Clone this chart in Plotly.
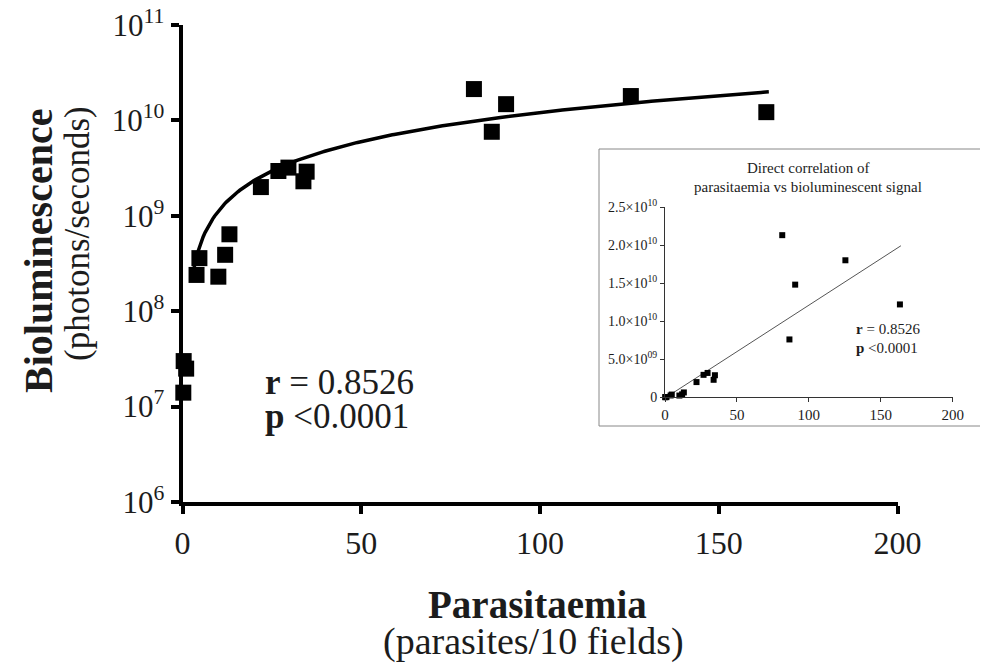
import numpy as np
import plotly.graph_objects as go

# ---- data ----
parasitaemia = [0.3, 1.0, 0.2, 4.7, 3.9, 10.0, 11.9, 13.1, 21.9, 26.8, 29.6,
                33.8, 34.7, 81.5, 86.5, 90.5, 125.4, 163.3]
bioluminescence = [3.0e7, 2.5e7, 1.4e7, 3.6e8, 2.4e8, 2.3e8, 3.9e8, 6.4e8,
                   2.0e9, 2.95e9, 3.2e9, 2.3e9, 2.9e9, 2.13e10, 7.6e9,
                   1.48e10, 1.8e10, 1.22e10]

# linear regression line
fit_intercept = -1.0e8
fit_slope = 1.22e8
fit_x_start, fit_x_end = 2.5, 164.0

main_y_tickvals = [1e6, 1e7, 1e8, 1e9, 1e10, 1e11]
main_y_ticktext = ["10<sup>6</sup>", "10<sup>7</sup>", "10<sup>8</sup>",
                   "10<sup>9</sup>", "10<sup>10</sup>", "10<sup>11</sup>"]
x_tickvals = [0, 50, 100, 150, 200]

inset_y_tickvals = [0, 5e9, 1e10, 1.5e10, 2e10, 2.5e10]
inset_y_ticktext = ["0", "5.0×10<sup>09</sup>", "1.0×10<sup>10</sup>",
                    "1.5×10<sup>10</sup>", "2.0×10<sup>10</sup>",
                    "2.5×10<sup>10</sup>"]

fit_x = np.linspace(fit_x_start, fit_x_end, 300)
fit_y = fit_intercept + fit_slope * fit_x

# page body margin offsets the figure by 8px
OFF = 8
W, H = 988 - OFF, 668 - OFF
FONT = "Liberation Serif, Times New Roman, serif"
TXT = "#1c1c1c"

def px(x):
    return (x - OFF) / W

def py(y):
    return 1 - (y - OFF) / H

fig = go.Figure()

# main chart
fig.add_trace(go.Scatter(x=fit_x, y=fit_y, mode="lines",
                         line=dict(color="#000000", width=3.5),
                         xaxis="x", yaxis="y", showlegend=False, hoverinfo="skip"))
fig.add_trace(go.Scatter(x=parasitaemia, y=bioluminescence, mode="markers",
                         marker=dict(symbol="square", size=16, color="#000000"),
                         cliponaxis=False, xaxis="x", yaxis="y", showlegend=False))

# inset chart
fig.add_trace(go.Scatter(x=fit_x, y=fit_y, mode="lines",
                         line=dict(color="#555555", width=1),
                         xaxis="x2", yaxis="y2", showlegend=False, hoverinfo="skip"))
fig.add_trace(go.Scatter(x=parasitaemia, y=bioluminescence, mode="markers",
                         marker=dict(symbol="square", size=6, color="#000000"),
                         cliponaxis=False, xaxis="x2", yaxis="y2", showlegend=False))

fig.update_layout(
    width=W, height=H,
    margin=dict(l=0, r=0, t=0, b=0),
    paper_bgcolor="white", plot_bgcolor="rgba(0,0,0,0)",
    font=dict(family=FONT, color=TXT),
    xaxis=dict(domain=[px(182.6), px(897.5)], range=[0, 200], automargin=False,
               tickvals=x_tickvals, ticks="outside", ticklen=8, tickwidth=4,
               tickcolor="#000", showline=True, linewidth=4, linecolor="#000",
               showgrid=False, zeroline=False, anchor="y",
               ticklabelstandoff=2, ticklabeloverflow="allow",
               tickfont=dict(size=32, family=FONT, color=TXT)),
    yaxis=dict(domain=[py(502), py(25)], type="log", range=[6, 11], automargin=False,
               tickvals=main_y_tickvals, ticktext=main_y_ticktext,
               ticks="outside", ticklen=8, tickwidth=4, tickcolor="#000",
               showline=True, linewidth=4, linecolor="#000",
               showgrid=False, zeroline=False, anchor="x",
               ticklabelstandoff=0, ticklabeloverflow="allow",
               tickfont=dict(size=31, family=FONT, color=TXT)),
    xaxis2=dict(domain=[px(665), px(952.7)], range=[0, 200], automargin=False,
                tickvals=x_tickvals, ticks="outside", ticklen=4, tickwidth=1,
                tickcolor="#333", showline=True, linewidth=1, linecolor="#333",
                showgrid=False, zeroline=False, anchor="y2",
                tickfont=dict(size=15, family=FONT, color=TXT)),
    yaxis2=dict(domain=[py(397.3), py(207)], range=[0, 2.5e10], automargin=False,
                tickvals=inset_y_tickvals, ticktext=inset_y_ticktext,
                ticks="outside", ticklen=4, tickwidth=1, tickcolor="#333",
                showline=True, linewidth=1, linecolor="#333",
                showgrid=False, zeroline=False, anchor="x2",
                tickfont=dict(size=14, family=FONT, color=TXT)),
    shapes=[dict(type="rect", xref="paper", yref="paper",
                 x0=px(599), x1=px(987), y0=py(426), y1=py(149),
                 line=dict(color="#888888", width=1), fillcolor="white",
                 layer="below")],
)

ann = [
    # main axis titles
    dict(text="<b>Bioluminescence</b>", x=px(38), y=py(251), textangle=-90,
         font=dict(size=40, family=FONT, color=TXT)),
    dict(text="(photons/seconds)", x=px(77), y=py(234), textangle=-90,
         font=dict(size=35, family=FONT, color=TXT)),
    dict(text="<b>Parasitaemia</b>", x=px(537), y=py(604),
         font=dict(size=39, family=FONT, color=TXT)),
    dict(text="(parasites/10 fields)", x=px(533), y=py(641),
         font=dict(size=38, family=FONT, color=TXT)),
    # main stats
    dict(text="<b>r</b> = 0.8526", x=px(263), y=py(382), xanchor="left",
         font=dict(size=35, family=FONT, color=TXT)),
    dict(text="<b>p</b> <0.0001", x=px(263), y=py(416), xanchor="left",
         font=dict(size=35, family=FONT, color=TXT)),
    # inset title and stats
    dict(text="Direct correlation of", x=px(808), y=py(168),
         font=dict(size=15, family=FONT, color=TXT)),
    dict(text="parasitaemia vs bioluminescent signal", x=px(808), y=py(187),
         font=dict(size=15, family=FONT, color=TXT)),
    dict(text="<b>r</b> = 0.8526", x=px(854), y=py(329), xanchor="left",
         font=dict(size=15, family=FONT, color=TXT)),
    dict(text="<b>p</b> <0.0001", x=px(854), y=py(348), xanchor="left",
         font=dict(size=15, family=FONT, color=TXT)),
]
for a in ann:
    a.update(xref="paper", yref="paper", showarrow=False)
    a.setdefault("xanchor", "center")
    a.setdefault("yanchor", "middle")
fig.update_layout(annotations=ann)

fig.write_html("out.html")
